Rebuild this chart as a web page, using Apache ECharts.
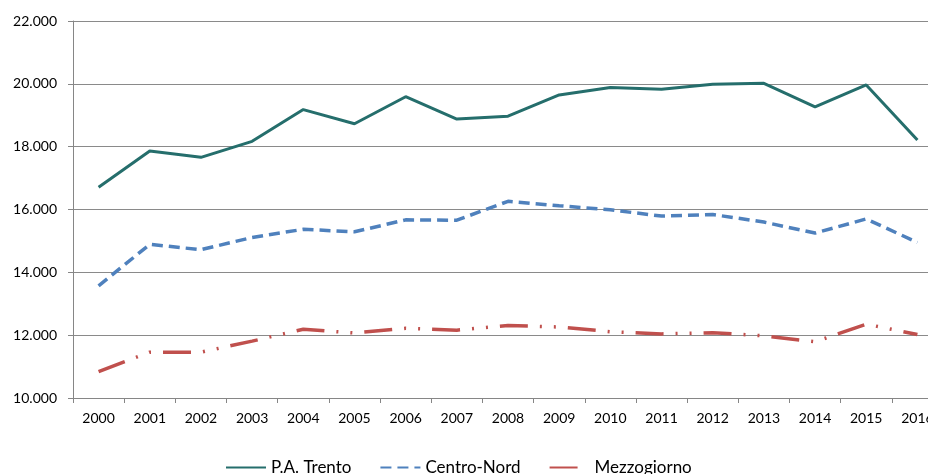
<!DOCTYPE html>
<html><head><meta charset="utf-8">
<script src="https://cdn.jsdelivr.net/npm/echarts@6/dist/echarts.min.js"></script>
<style>html,body{margin:0;padding:0;background:#fff;overflow:hidden;width:928px;height:474px;}#c{width:944px;height:474px;}</style>
</head><body><div id="c"></div>
<script>
const years = ['2000','2001','2002','2003','2004','2005','2006','2007','2008','2009','2010','2011','2012','2013','2014','2015','2016'];
const trento = [16710,17860,17660,18170,19180,18730,19590,18880,18970,19645,19880,19830,19990,20015,19270,19965,18215];
const centroNord = [13570,14890,14720,15110,15370,15290,15670,15660,16260,16120,15990,15790,15840,15600,15250,15700,14950];
const mezzogiorno = [10840,11460,11460,11810,12190,12070,12220,12160,12310,12260,12110,12040,12080,11980,11790,12350,12020];
const yTicks = {min:10000, max:22000, interval:2000};

function fmt(v){ return String(v).replace(/\B(?=(\d{3})+(?!\d))/g,'.'); }

const chart = echarts.init(document.getElementById('c'), null, {renderer:'canvas'});
const font = 'Lato, "Open Sans", sans-serif';
chart.setOption({
  animation:false,
  backgroundColor:'#fff',
  grid:{left:73, right:1, top:21, bottom:76, containLabel:false},
  legend:{
    bottom:-7, left:220,
    itemWidth:40, itemHeight:14, itemGap:28,
    itemStyle:{opacity:0},
    textStyle:{fontFamily:font, fontSize:17, color:'#000'},
    data:['P.A. Trento','Centro-Nord','Mezzogiorno']
  },
  xAxis:{
    type:'category', data:years, boundaryGap:true,
    axisLine:{lineStyle:{color:'#868686', width:1}},
    axisTick:{show:true, length:5, lineStyle:{color:'#868686'}},
    axisLabel:{fontFamily:font, fontSize:14, color:'#000', margin:13}
  },
  yAxis:{
    type:'value', min:yTicks.min, max:yTicks.max, interval:yTicks.interval,
    axisLine:{show:true, lineStyle:{color:'#868686', width:1}},
    axisTick:{show:true, length:5, lineStyle:{color:'#868686'}},
    splitLine:{lineStyle:{color:'#8a8a8a', width:1}},
    axisLabel:{fontFamily:font, fontSize:14, color:'#000', margin:16, formatter:fmt}
  },
  series:[
    {name:'P.A. Trento', type:'line', data:trento, symbol:'none', z:3,
     lineStyle:{color:'#256E6C', width:3}, itemStyle:{color:'#256E6C'}},
    {name:'Centro-Nord', type:'line', data:centroNord, symbol:'none', z:2,
     lineStyle:{color:'#4F81BD', width:3.5, type:[11,6]}, itemStyle:{color:'#4F81BD'}},
    {name:'Mezzogiorno', type:'line', data:mezzogiorno, symbol:'none', z:2,
     lineStyle:{color:'#C0504D', width:3.5, type:[28,12,2,12,2,12]}, itemStyle:{color:'#C0504D'}}
  ]
});
</script></body></html>
